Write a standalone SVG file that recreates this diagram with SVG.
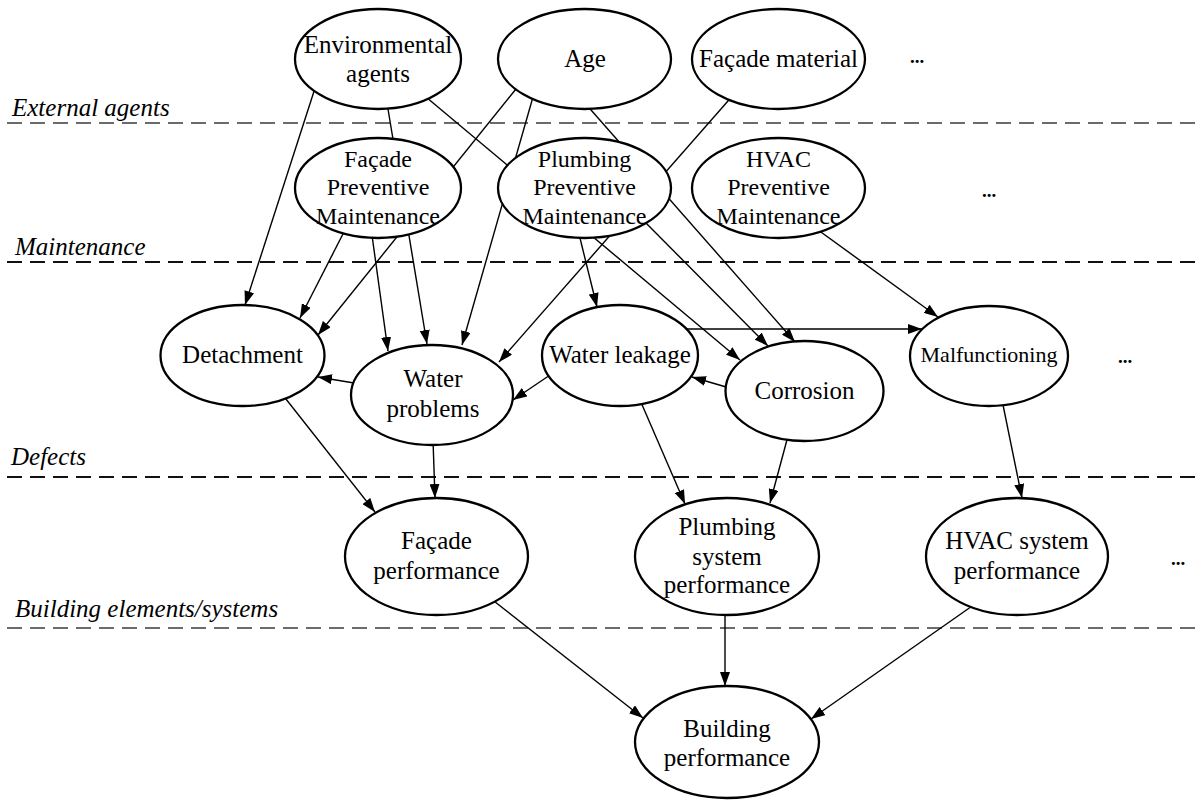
<svg xmlns="http://www.w3.org/2000/svg" width="1203" height="800" viewBox="0 0 1203 800">
<style>
  .node ellipse { fill: #ffffff; stroke: #000000; stroke-width: 2.3; }
  .node text { font-family: "Liberation Serif", "Times New Roman", serif; font-size: 25px; fill: #000000; text-anchor: middle; }
  .node text.s24 { font-size: 24px; }
  .node text.s22 { font-size: 22px; }
  .conn line { stroke: #000000; stroke-width: 1.4; fill: none; }
  .conn line.arr { marker-end: url(#ah); }
  .sep { stroke-width: 2; stroke-dasharray: 15 8; fill: none; }
  .layer { font-family: "Liberation Serif", "Times New Roman", serif; font-size: 25px; font-style: italic; fill: #000000; }
  .dots { font-family: "Liberation Serif", "Times New Roman", serif; font-size: 19px; font-weight: bold; fill: #000000; text-anchor: middle; }
</style>
<defs>
  <marker id="ah" markerUnits="userSpaceOnUse" markerWidth="14" markerHeight="10" refX="14" refY="5" orient="auto">
    <path d="M0,0 L14,5 L0,10 z" fill="#000000"/>
  </marker>
</defs>
<rect x="0" y="0" width="1203" height="800" fill="#ffffff"/>

<g id="separators">
  <line class="sep" x1="7" y1="123" x2="1200" y2="123" stroke="#6b6b6b"/>
  <line class="sep" x1="7" y1="262" x2="1200" y2="262" stroke="#111111"/>
  <line class="sep" x1="7" y1="477" x2="1200" y2="477" stroke="#111111"/>
  <line class="sep" x1="7" y1="628" x2="1200" y2="628" stroke="#6b6b6b"/>
</g>

<g id="layer-labels">
  <text class="layer" x="12" y="116">External agents</text>
  <text class="layer" x="15" y="255">Maintenance</text>
  <text class="layer" x="11" y="465">Defects</text>
  <text class="layer" x="15" y="617">Building elements/systems</text>
</g>

<g id="connectors" class="conn">
  <line class="arr" x1="317" y1="82" x2="245" y2="305"/>
  <line class="arr" x1="386" y1="97" x2="427" y2="344"/>
  <line class="arr" x1="420" y1="92" x2="740" y2="360"/>
  <line class="arr" x1="520" y1="84" x2="318" y2="335"/>
  <line class="arr" x1="535" y1="90" x2="462" y2="345"/>
  <line class="arr" x1="584" y1="102" x2="795" y2="342"/>
  <line class="arr" x1="735" y1="93" x2="499" y2="362"/>
  <line class="arr" x1="346" y1="228" x2="300" y2="318"/>
  <line class="arr" x1="371" y1="228" x2="388" y2="351"/>
  <line class="arr" x1="578" y1="230" x2="597" y2="307"/>
  <line class="arr" x1="640" y1="217" x2="768" y2="346"/>
  <line class="arr" x1="814" y1="227" x2="938" y2="317"/>
  <line class="arr" x1="680" y1="329" x2="922" y2="329"/>
  <line class="arr" x1="360" y1="384" x2="318" y2="377"/>
  <line class="arr" x1="553" y1="373" x2="513" y2="400"/>
  <line class="arr" x1="733" y1="389" x2="692" y2="377"/>
  <line class="arr" x1="282" y1="394" x2="375" y2="512"/>
  <line class="arr" x1="433" y1="440" x2="435" y2="498"/>
  <line class="arr" x1="640" y1="400" x2="685" y2="504"/>
  <line class="arr" x1="788" y1="436" x2="770" y2="503"/>
  <line class="arr" x1="1002" y1="400" x2="1022" y2="498"/>
  <line class="arr" x1="490" y1="598" x2="643" y2="718"/>
  <line class="arr" x1="725" y1="610" x2="725" y2="686"/>
  <line class="arr" x1="975" y1="604" x2="811" y2="719"/>
</g>

<g id="env-agents" class="node">
  <ellipse cx="378" cy="59" rx="83" ry="50"/>
  <text x="378" y="53">Environmental</text>
  <text x="378" y="82">agents</text>
</g>
<g id="age" class="node">
  <ellipse cx="584.5" cy="59" rx="86.5" ry="50"/>
  <text x="585" y="67">Age</text>
</g>
<g id="facade-material" class="node">
  <ellipse cx="778.5" cy="59" rx="86.5" ry="50"/>
  <text x="778.5" y="67">Façade material</text>
</g>
<g id="dots-1"><text class="dots" x="917" y="63">...</text></g>

<g id="facade-pm" class="node">
  <ellipse cx="378" cy="188" rx="83" ry="50"/>
  <text class="s24" x="378" y="167">Façade</text>
  <text class="s24" x="378" y="195">Preventive</text>
  <text class="s24" x="378" y="224">Maintenance</text>
</g>
<g id="plumbing-pm" class="node">
  <ellipse cx="584.5" cy="188" rx="86.5" ry="50"/>
  <text class="s24" x="584.5" y="167">Plumbing</text>
  <text class="s24" x="584.5" y="195">Preventive</text>
  <text class="s24" x="584.5" y="224">Maintenance</text>
</g>
<g id="hvac-pm" class="node">
  <ellipse cx="778.5" cy="188" rx="86.5" ry="50"/>
  <text class="s24" x="778.5" y="167">HVAC</text>
  <text class="s24" x="778.5" y="195">Preventive</text>
  <text class="s24" x="778.5" y="224">Maintenance</text>
</g>
<g id="dots-2"><text class="dots" x="989" y="197">...</text></g>

<g id="detachment" class="node">
  <ellipse cx="242.5" cy="355.5" rx="82" ry="50.5"/>
  <text x="242.5" y="363">Detachment</text>
</g>
<g id="water-problems" class="node">
  <ellipse cx="432" cy="395" rx="81" ry="50"/>
  <text x="433" y="387">Water</text>
  <text x="433" y="417">problems</text>
</g>
<g id="water-leakage" class="node">
  <ellipse cx="620" cy="355.5" rx="78" ry="50.5"/>
  <text x="620" y="363">Water leakage</text>
</g>
<g id="corrosion" class="node">
  <ellipse cx="804.5" cy="391" rx="79" ry="50"/>
  <text x="804.5" y="399">Corrosion</text>
</g>
<g id="malfunctioning" class="node">
  <ellipse cx="989" cy="356" rx="79" ry="50"/>
  <text class="s22" x="989" y="362">Malfunctioning</text>
</g>
<g id="dots-3"><text class="dots" x="1125" y="363">...</text></g>

<g id="facade-performance" class="node">
  <ellipse cx="436.5" cy="556.5" rx="91.5" ry="58.5"/>
  <text x="436.5" y="549">Façade</text>
  <text x="436.5" y="579">performance</text>
</g>
<g id="plumbing-performance" class="node">
  <ellipse cx="727" cy="556.5" rx="92" ry="58.5"/>
  <text x="727" y="535">Plumbing</text>
  <text x="727" y="565">system</text>
  <text x="727" y="593">performance</text>
</g>
<g id="hvac-performance" class="node">
  <ellipse cx="1017" cy="556.5" rx="91" ry="58.5"/>
  <text x="1017" y="549">HVAC system</text>
  <text x="1017" y="579">performance</text>
</g>
<g id="dots-4"><text class="dots" x="1178" y="565">...</text></g>

<g id="building-performance" class="node">
  <ellipse cx="727" cy="742" rx="92" ry="56"/>
  <text x="727" y="737">Building</text>
  <text x="727" y="766">performance</text>
</g>
</svg>
